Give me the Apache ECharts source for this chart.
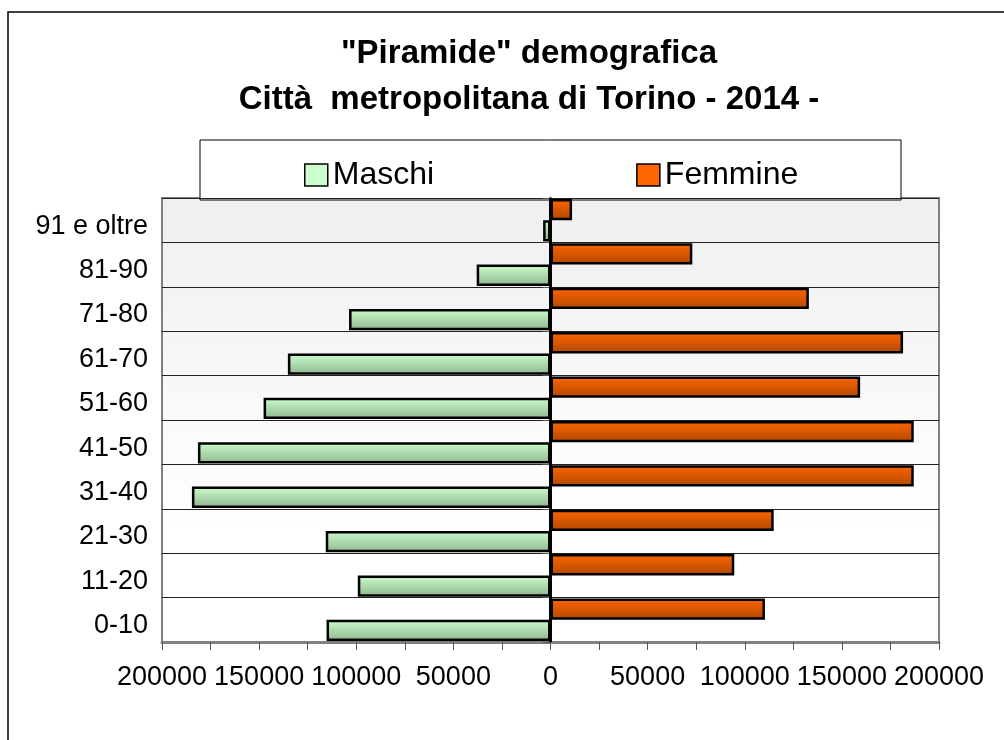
<!DOCTYPE html>
<html>
<head>
<meta charset="utf-8">
<script src="https://cdn.jsdelivr.net/npm/echarts@6/dist/echarts.min.js"></script>
<style>
  html, body { margin: 0; padding: 0; background: #fff; }
  #container { width: 1004px; height: 740px; }
</style>
</head>
<body>
<div id="container"></div>
<script type="text/javascript">
// fasce d'eta (dal basso verso l'alto)
var categories = ['0-10', '11-20', '21-30', '31-40', '41-50', '51-60', '61-70', '71-80', '81-90', '91 e oltre'];
var maschi = [115300, 99200, 115700, 184600, 181500, 147700, 135200, 103700, 38000, 3800];
var femmine = [110400, 94600, 114900, 187000, 187000, 159400, 181500, 133000, 73000, 11100];
var xTicks = [-200000, 200000, 25000];

var font = 'Liberation Sans, Arial, sans-serif';

var myChart = echarts.init(document.getElementById('container'));

var option = {
    backgroundColor: '#fff',
    animation: false,
    title: {
        text: '"Piramide" demografica\nCittà  metropolitana di Torino - 2014 -',
        left: 524,
        top: 26,
        textAlign: 'center',
        textStyle: {
            fontFamily: font,
            fontWeight: 'bold',
            fontSize: 33,
            lineHeight: 46,
            color: '#000'
        }
    },
    graphic: [
        {
            type: 'rect',
            z: -10,
            shape: { x: 8, y: 12, width: 1010, height: 740 },
            style: { fill: 'none', stroke: '#000', lineWidth: 1.5 }
        },
        {
            type: 'rect',
            z: 0,
            shape: { x: 200, y: 140, width: 701, height: 60 },
            style: { fill: '#fff', stroke: '#000', lineWidth: 1 }
        }
    ],
    legend: {
        left: 299,
        top: 154,
        itemWidth: 23,
        itemHeight: 22,
        itemGap: 202,
        icon: 'rect',
        z: 10,
        textStyle: { fontFamily: font, fontSize: 32, color: '#000' },
        data: [
            { name: 'Maschi', itemStyle: { color: '#ccffcc', borderColor: '#000', borderWidth: 1.5 } },
            { name: 'Femmine', itemStyle: { color: '#ff6600', borderColor: '#000', borderWidth: 1.5 } }
        ]
    },
    grid: {
        left: 162,
        right: 65,
        top: 198,
        bottom: 98,
        show: true,
        borderColor: '#808080',
        borderWidth: 2,
        backgroundColor: {
            type: 'linear', x: 0, y: 0, x2: 0, y2: 1,
            colorStops: [
                { offset: 0, color: '#efefef' },
                { offset: 0.75, color: '#ffffff' },
                { offset: 1, color: '#ffffff' }
            ]
        }
    },
    xAxis: {
        type: 'value',
        min: xTicks[0],
        max: xTicks[1],
        interval: xTicks[2],
        axisLine: { show: true, lineStyle: { color: '#808080', width: 3 } },
        axisTick: { show: true, length: 8, lineStyle: { color: '#555', width: 1 } },
        splitLine: { show: false },
        axisLabel: {
            margin: 22,
            fontFamily: font,
            fontSize: 27,
            color: '#000',
            formatter: function (v) {
                return v % 50000 === 0 ? String(Math.abs(v)) : '';
            }
        }
    },
    yAxis: {
        type: 'category',
        data: categories,
        axisLine: { show: true, lineStyle: { color: '#808080', width: 3 } },
        axisTick: { show: true, length: 8, lineStyle: { color: '#555', width: 1 } },
        splitLine: { show: true, lineStyle: { color: '#222', width: 1 } },
        axisLabel: {
            margin: 14,
            verticalAlign: 'top',
            lineHeight: 12,
            fontFamily: font,
            fontSize: 27,
            color: '#000'
        }
    },
    series: [
        {
            name: 'Femmine',
            type: 'bar',
            barGap: '0%',
            barCategoryGap: '4%',
            data: femmine,
            itemStyle: {
                borderColor: '#000',
                borderWidth: 2.5,
                color: {
                    type: 'linear', x: 0, y: 0, x2: 0, y2: 1,
                    colorStops: [
                        { offset: 0, color: '#ff6600' },
                        { offset: 1, color: '#b04800' }
                    ]
                }
            }
        },
        {
            name: 'Maschi',
            type: 'bar',
            barGap: '0%',
            barCategoryGap: '4%',
            data: maschi.map(function (v) { return -v; }),
            itemStyle: {
                borderColor: '#000',
                borderWidth: 2.5,
                color: {
                    type: 'linear', x: 0, y: 0, x2: 0, y2: 1,
                    colorStops: [
                        { offset: 0, color: '#ccffcc' },
                        { offset: 1, color: '#8fb58f' }
                    ]
                }
            },
            markLine: {
                silent: true,
                symbol: 'none',
                label: { show: false },
                lineStyle: { color: '#000', width: 3, type: 'solid' },
                data: [{ xAxis: 0 }]
            }
        }
    ]
};

myChart.setOption(option);
</script>
</body>
</html>
